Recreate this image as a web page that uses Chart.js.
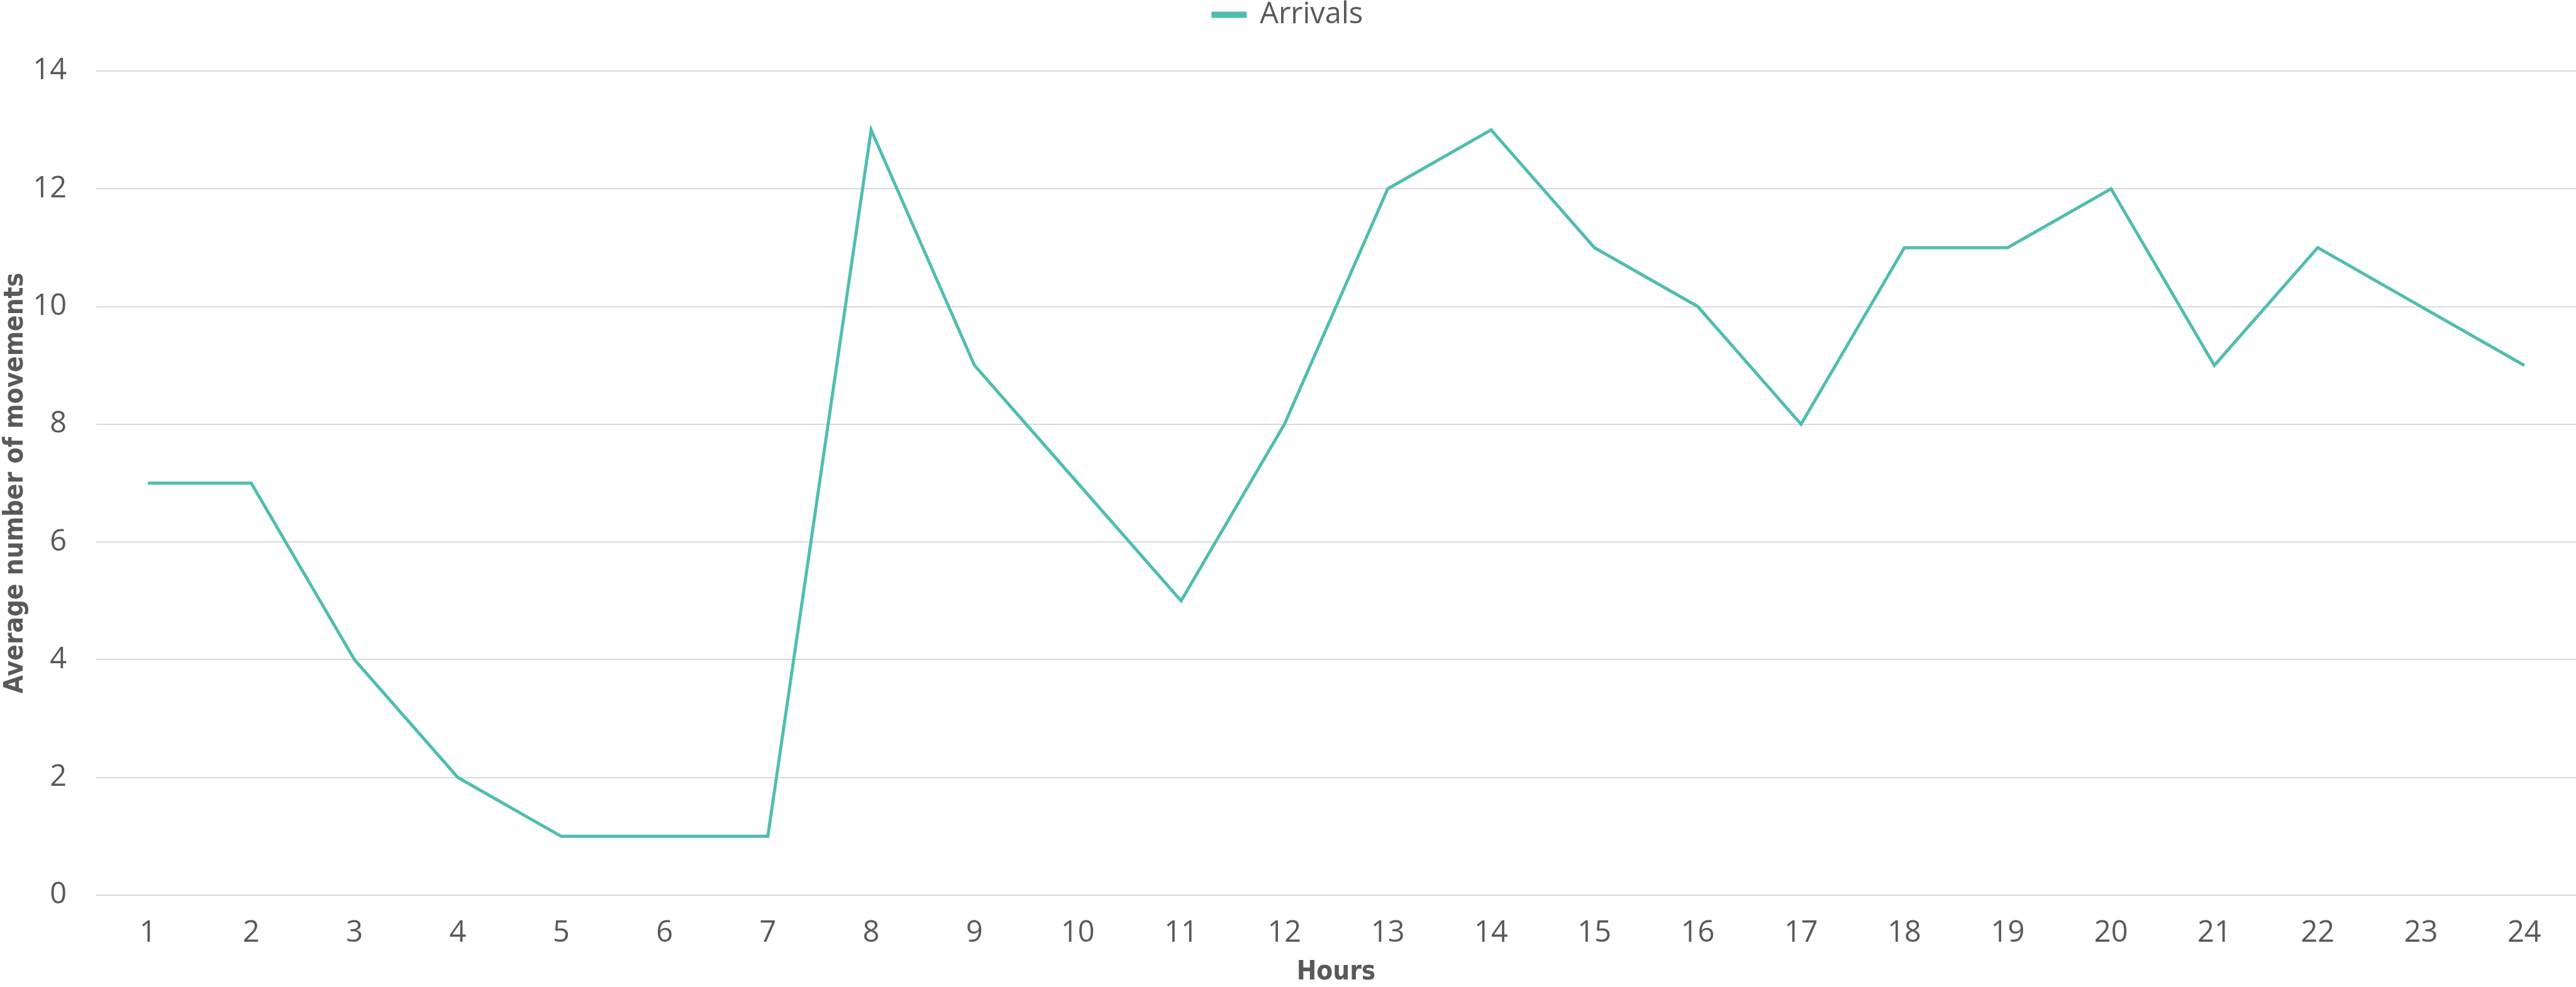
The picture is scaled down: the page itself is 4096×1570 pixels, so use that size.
<!DOCTYPE html>
<html>
<head>
<meta charset="utf-8">
<script src="https://cdn.jsdelivr.net/npm/chart.js@4.4.1/dist/chart.umd.min.js"></script>
<style>
  html, body { margin: 0; padding: 0; background: #ffffff; }
  #wrap { width: 4096px; height: 1570px; position: relative; }
</style>
</head>
<body>
<div id="wrap"><canvas id="chart"></canvas></div>
<script>
// Average hourly arrivals
const hours = ['1','2','3','4','5','6','7','8','9','10','11','12','13','14','15','16','17','18','19','20','21','22','23','24'];
const arrivals = [7, 7, 4, 2, 1, 1, 1, 13, 9, 7, 5, 8, 12, 13, 11, 10, 8, 11, 11, 12, 9, 11, 10, 9];
const yTicks = [0, 2, 4, 6, 8, 10, 12, 14];

const TEXT = '#595959';
const LINE = '#50BDB0';
const GRID = '#d9d9d9';
const tickFont = { family: "'Open Sans', 'DejaVu Sans', sans-serif", size: 47, weight: 400 };
const titleFont = { family: "'DejaVu Sans Condensed', 'DejaVu Sans', sans-serif", size: 42, weight: 'bold', lineHeight: 1 };

// Reserve a fixed band above the plot for the legend
const legendBand = {
  id: 'legendBand',
  beforeInit(chart) {
    const fit = chart.legend.fit;
    chart.legend.fit = function () {
      fit.call(this);
      this.height = 113;
    };
  }
};

new Chart(document.getElementById('chart'), {
  type: 'line',
  plugins: [legendBand],
  data: {
    labels: hours,
    datasets: [{
      label: 'Arrivals',
      data: arrivals,
      borderColor: LINE,
      backgroundColor: LINE,
      borderWidth: 5,
      pointRadius: 0,
      tension: 0,
      fill: false
    }]
  },
  options: {
    responsive: true,
    maintainAspectRatio: false,
    animation: false,
    layout: { padding: 0 },
    plugins: {
      tooltip: { enabled: false },
      legend: {
        position: 'top',
        labels: {
          color: TEXT,
          font: tickFont,
          boxWidth: 51,
          boxHeight: 5,
          padding: 0
        }
      }
    },
    scales: {
      x: {
        offset: true,
        afterFit(scale) { scale.height = 146; },
        grid: { display: false, drawTicks: false },
        border: { display: false },
        ticks: { color: TEXT, font: tickFont, padding: 32, maxRotation: 0 },
        title: { display: true, text: 'Hours', color: TEXT, font: titleFont, padding: { top: 0, bottom: 2 } }
      },
      y: {
        min: 0,
        max: 14,
        afterFit(scale) { scale.width = 153; },
        afterBuildTicks: (axis) => { axis.ticks = yTicks.map(v => ({ value: v })); },
        grid: { color: GRID, lineWidth: 2, drawTicks: false },
        border: { display: false },
        ticks: { color: TEXT, font: tickFont, padding: 47 },
        title: { display: true, text: 'Average number of movements', color: TEXT, font: titleFont, padding: { top: 4, bottom: 0 } }
      }
    }
  }
});
</script>
</body>
</html>
